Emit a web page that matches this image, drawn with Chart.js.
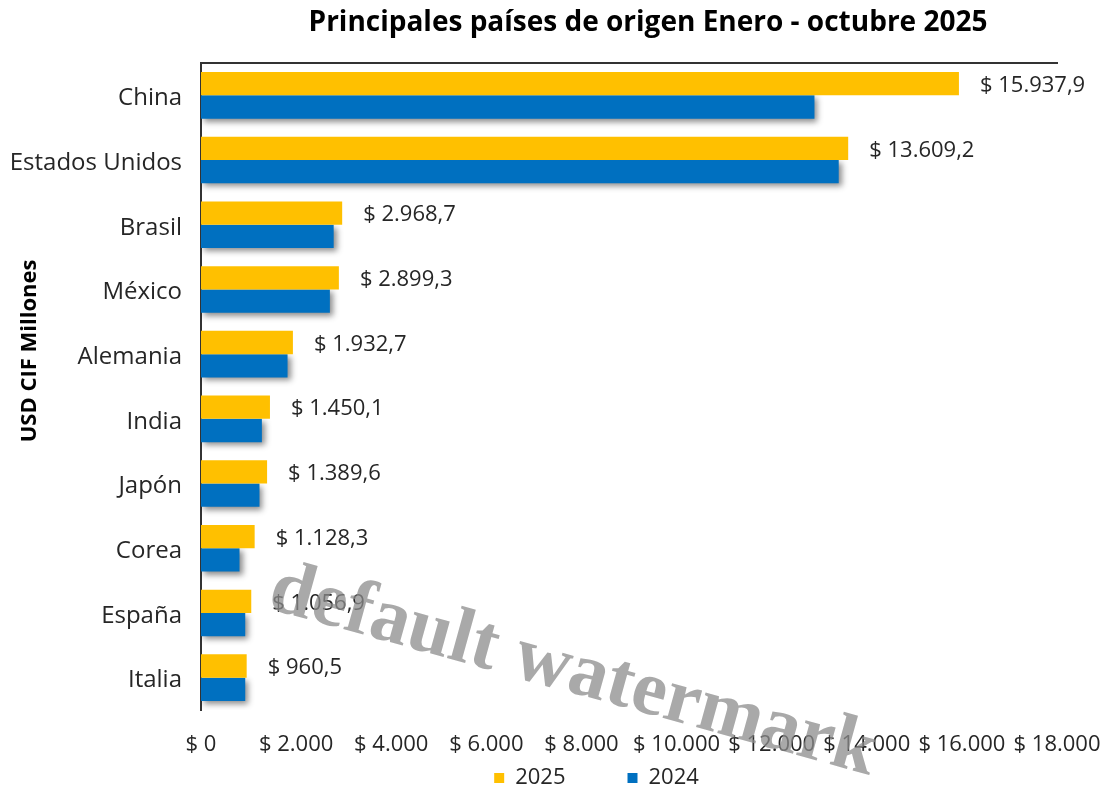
<!DOCTYPE html>
<html>
<head>
<meta charset="utf-8">
<script src="https://cdn.jsdelivr.net/npm/chart.js@4.4.1/dist/chart.umd.min.js"></script>
<style>
  html, body { margin: 0; padding: 0; background: #ffffff; }
  #wrap { width: 1107px; height: 793px; }
</style>
</head>
<body>
<div id="wrap"><canvas id="c" width="1107" height="793"></canvas></div>
<script>
const categories = ['China', 'Estados Unidos', 'Brasil', 'México', 'Alemania', 'India', 'Japón', 'Corea', 'España', 'Italia'];
const values2025 = [15937.9, 13609.2, 2968.7, 2899.3, 1932.7, 1450.1, 1389.6, 1128.3, 1056.9, 960.5];
const values2024 = [12900, 13410, 2790, 2710, 1820, 1280, 1230, 810, 930, 930];
const seriesNames = ['2025', '2024'];
const axisMin = 0;
const axisMax = 18000;
const axisStep = 2000;
const titleText = 'Principales países de origen Enero - octubre 2025';
const yTitleText = 'USD CIF Millones';
const watermarkText = 'default watermark';

const FONT = "'Open Sans', 'DejaVu Sans', sans-serif";
const TEXT = '#262626';
const LEGEND_PAD = 62;

function fmt(v, dec) {
  const parts = v.toFixed(dec).split('.');
  parts[0] = parts[0].replace(/\B(?=(\d{3})+(?!\d))/g, '.');
  return parts.join(',');
}

const helperPlugin = {
  id: 'helper',
  beforeLayout(chart) {
    const lg = chart.legend;
    if (lg && !lg._fitPatched) {
      const origFit = lg.fit.bind(lg);
      lg.fit = function () { origFit(); this.height = 40; };
      lg._fitPatched = true;
    }
  },
  afterLayout(chart) {
    const lg = chart.legend;
    if (lg) {
      lg.left += 68; lg.right += 68;
      lg.top = 778 - 11 - LEGEND_PAD;
      lg.bottom = chart.height;
    }
    if (chart.titleBlock) { chart.titleBlock.left += 19; chart.titleBlock.right += 19; }
  },
  beforeDatasetDraw(chart, args) {
    const ctx = chart.ctx;
    ctx.save();
    if (args.index === 1) {
      ctx.shadowColor = 'rgba(0,0,0,0.45)';
      ctx.shadowBlur = 6;
      ctx.shadowOffsetX = 3;
      ctx.shadowOffsetY = 3;
    }
  },
  afterDatasetDraw(chart) {
    chart.ctx.restore();
  },
  afterDatasetsDraw(chart) {
    const ctx = chart.ctx;
    const meta = chart.getDatasetMeta(0);
    ctx.save();
    ctx.font = '22px ' + FONT;
    ctx.fillStyle = TEXT;
    ctx.textAlign = 'left';
    ctx.textBaseline = 'middle';
    meta.data.forEach((bar, i) => {
      ctx.fillText('$ ' + fmt(values2025[i], 1), bar.x + 21, bar.y + 2);
    });
    ctx.restore();
  },
  afterDraw(chart) {
    const ctx = chart.ctx;
    const a = chart.chartArea;
    ctx.save();
    ctx.translate(30, a.top + (a.bottom - a.top) * 0.445);
    ctx.rotate(-Math.PI / 2);
    ctx.font = 'bold 22px ' + FONT;
    ctx.fillStyle = '#000';
    ctx.textAlign = 'center';
    ctx.textBaseline = 'middle';
    ctx.fillText(yTitleText, 0, 0);
    ctx.restore();
    ctx.save();
    ctx.translate(573, 672);
    ctx.rotate(15.5 * Math.PI / 180);
    ctx.font = "bold 78px 'Liberation Serif', 'DejaVu Serif', serif";
    ctx.fillStyle = 'rgba(140,140,140,0.75)';
    ctx.textAlign = 'center';
    ctx.textBaseline = 'middle';
    ctx.fillText(watermarkText, 0, 0);
    ctx.restore();
  }
};

new Chart(document.getElementById('c'), {
  type: 'bar',
  data: {
    labels: categories,
    datasets: [
      { label: seriesNames[0], data: values2025, backgroundColor: '#FFC000', borderWidth: 0 },
      { label: seriesNames[1], data: values2024, backgroundColor: '#0070C0', borderWidth: 0 }
    ]
  },
  options: {
    indexAxis: 'y',
    responsive: false,
    animation: false,
    devicePixelRatio: 1,
    categoryPercentage: 0.72,
    barPercentage: 1.0,
    layout: { padding: { left: 0, right: 50, top: 0, bottom: 0 } },
    scales: {
      x: {
        type: 'linear',
        position: 'bottom',
        min: axisMin, max: axisMax,
        grid: { display: false, drawTicks: false },
        border: { display: false },
        ticks: {
          stepSize: axisStep,
          autoSkip: false,
          maxRotation: 0, minRotation: 0,
          padding: 22,
          color: TEXT,
          font: { family: FONT, size: 22 },
          callback: (v) => '$ ' + fmt(v, 0)
        },
        afterFit(scale) { scale.height = 43; scale.paddingLeft = 0; scale.paddingRight = 0; }
      },
      x2: {
        type: 'linear',
        position: 'top',
        min: axisMin, max: axisMax,
        grid: { display: false, drawTicks: false },
        border: { display: true, color: '#333333', width: 2 },
        ticks: { display: false },
        afterFit(scale) { scale.height = 0; scale.paddingLeft = 0; scale.paddingRight = 0; }
      },
      y: {
        type: 'category',
        grid: { display: false, drawTicks: false },
        border: { display: true, color: '#333333', width: 2 },
        ticks: {
          padding: 19,
          labelOffset: 3,
          color: TEXT,
          font: { family: FONT, size: 24 }
        },
        afterFit(scale) { scale.width = 201; scale.paddingTop = 0; scale.paddingBottom = 0; }
      }
    },
    plugins: {
      title: {
        display: true,
        text: titleText,
        fullSize: false,
        color: '#000',
        font: { family: FONT, size: 28, weight: 'bold' },
        padding: { top: 6, bottom: 23.4 }
      },
      legend: {
        display: true,
        position: 'bottom',
        labels: {
          boxWidth: 10,
          boxHeight: 10,
          padding: LEGEND_PAD,
          color: TEXT,
          font: { family: FONT, size: 22 }
        }
      },
      tooltip: { enabled: false }
    }
  },
  plugins: [helperPlugin]
});
</script>
</body>
</html>
